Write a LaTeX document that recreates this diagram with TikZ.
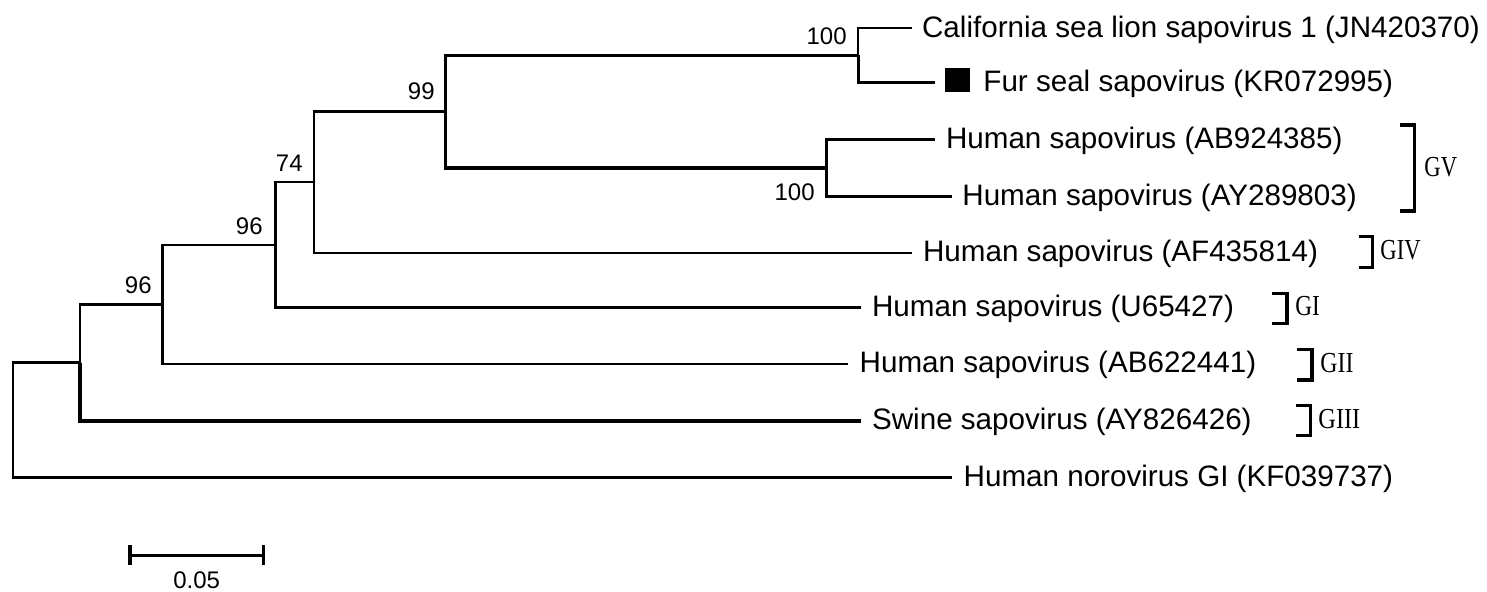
\documentclass[tikz,border=0pt]{standalone}
\usepackage{fontspec}
\setmainfont{Liberation Sans}
\newfontfamily\grpfont{Liberation Serif}
\begin{document}
\begin{tikzpicture}[x=0.5pt,y=-0.5pt,
  thinline/.style={line width=0.95pt},
  normline/.style={line width=1.25pt},
  thickline/.style={line width=1.65pt},
  bracketline/.style={line width=1.6pt},
  leaf/.style={anchor=base west, inner sep=0pt, font=\fontsize{14.8}{17}\selectfont},
  boot/.style={anchor=base east, inner sep=0pt, font=\fontsize{12}{14}\selectfont},
  grp/.style={anchor=base west, inner sep=0pt, font=\grpfont\fontsize{14.5}{17}\selectfont}]
\useasboundingbox (0,0) rectangle (1487,592);

% internal nodes
\coordinate (R) at (13,420.2);
\coordinate (A) at (80,362.75);
\coordinate (B) at (162.3,304.5);
\coordinate (C) at (275.3,245);
\coordinate (D) at (314,182.2);
\coordinate (E) at (445.7,111.75);
\coordinate (F) at (858.3,55.5);
\coordinate (G) at (826.7,168);

% leaf tips
\coordinate (tCal) at (911.7,28.3);
\coordinate (tFur) at (935,82.7);
\coordinate (tAB9) at (935,139.3);
\coordinate (tAY2) at (951.7,196.7);
\coordinate (tAF4) at (912,252.7);
\coordinate (tU65) at (860.7,307.7);
\coordinate (tAB6) at (848.3,364);
\coordinate (tAY8) at (860.7,421);
\coordinate (tKF0) at (952.3,477.7);

% branches
\draw[normline] (R) |- (A);
\draw[normline] (R) |- (tKF0);
\draw[normline] (A) |- (B);
\draw[thickline] (A) |- (tAY8);
\draw[normline] (B) |- (C);
\draw[normline] (B) |- (tAB6);
\draw[normline] (C) |- (D);
\draw[thickline] (C) |- (tU65);
\draw[normline] (D) |- (E);
\draw[thinline] (D) |- (tAF4);
\draw[normline] (E) |- (F);
\draw[thickline] (E) |- (G);
\draw[normline] (F) |- (tFur);
\draw[thinline] (F) |- (tCal);
\draw[thickline] (G) |- (tAB9);
\draw[thickline] (G) |- (tAY2);

% leaf labels
\node[leaf] (lCal) at (921.7,37.3) {California sea lion sapovirus 1 (JN420370)};
\node[fill=black, minimum width=12.5pt, minimum height=11.7pt, inner sep=0pt] (sq) at (957.5,80.2) {};
\node[leaf] (lFur) at (983,91.5) {Fur seal sapovirus (KR072995)};
\node[leaf] (lAB9) at (945.6,148.3) {Human sapovirus (AB924385)};
\node[leaf] (lAY2) at (962,205.7) {Human sapovirus (AY289803)};
\node[leaf] (lAF4) at (922.7,261.7) {Human sapovirus (AF435814)};
\node[leaf] (lU65) at (871.7,316.7) {Human sapovirus (U65427)};
\node[leaf] (lAB6) at (859.3,373) {Human sapovirus (AB622441)};
\node[leaf] (lAY8) at (871.7,430) {Swine sapovirus (AY826426)};
\node[leaf] (lKF0) at (963.3,486.7) {Human norovirus GI (KF039737)};

% bootstrap values
\node[boot] (bF) at (847,45) {100};
\node[boot] (bE) at (435,100) {99};
\node[boot] (bD) at (303,172) {74};
\node[boot] (bC) at (263,235) {96};
\node[boot] (bB) at (152,294) {96};
\node[boot] (bG) at (815,201) {100};

% genogroup brackets
\draw[bracketline] (1400,125) -- (1414.7,125) -- (1414.7,211) -- (1400,211);
\node[grp] (gV) at (1424,176.5) {\scalebox{0.78}[1]{GV}};
\draw[bracketline] (1358.7,236.7) -- (1372.7,236.7) -- (1372.7,267.7) -- (1358.7,267.7);
\node[grp] (gIV) at (1380,260) {\scalebox{0.78}[1]{GIV}};
\draw[bracketline] (1272,293.3) -- (1287,293.3) -- (1287,323.3) -- (1272,323.3);
\node[grp] (gI) at (1295,316) {\scalebox{0.8}[1]{GI}};
\draw[bracketline] (1297,349.3) -- (1312,349.3) -- (1312,380) -- (1297,380);
\node[grp] (gII) at (1320,372.5) {\scalebox{0.82}[1]{GII}};
\draw[bracketline] (1296,405.7) -- (1310.3,405.7) -- (1310.3,435.7) -- (1296,435.7);
\node[grp] (gIII) at (1318,428.5) {\scalebox{0.84}[1]{GIII}};

% scale bar
\coordinate (s1) at (130,555.3);
\coordinate (s2) at (263.3,555.3);
\draw[normline] (s1) -- (s2);
\draw[thickline] ([yshift=5pt]s1) -- ([yshift=-5pt]s1);
\draw[thickline] ([yshift=5pt]s2) -- ([yshift=-5pt]s2);
\node[boot, anchor=base] (sl) at (196.7,588.5) {0.05};
\end{tikzpicture}
\end{document}
